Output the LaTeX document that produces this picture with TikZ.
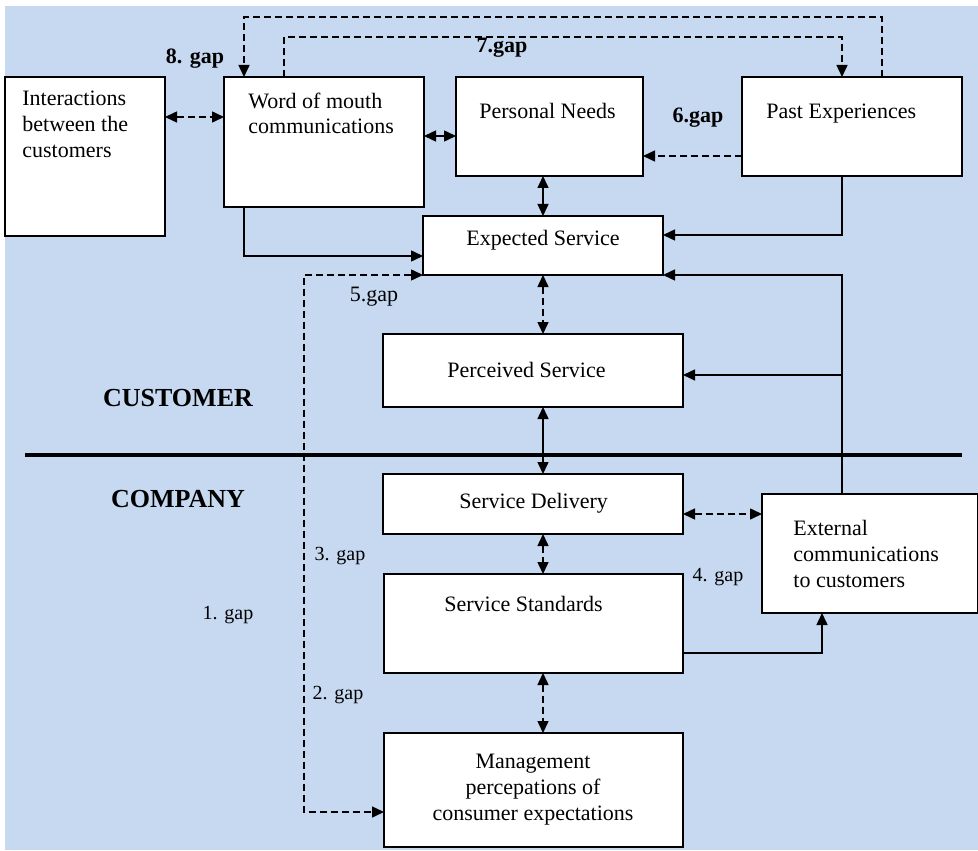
\documentclass[tikz,border=0pt]{standalone}
\usepackage{fontspec}
\setmainfont{Liberation Serif}
\usetikzlibrary{arrows.meta,calc}
\definecolor{paleblue}{RGB}{198,217,241}

\begin{document}
\begin{tikzpicture}[x=0.5pt,y=-0.5pt,
  box/.style={draw,fill=white,line width=0.65pt,inner sep=0pt,outer sep=0pt,anchor=north west},
  txt/.style={font=\fontsize{11}{13}\selectfont,inner sep=0pt,anchor=base west,align=left},
  link/.style={line width=0.75pt,>={Triangle[length=6pt,width=5.5pt]}},
  dlink/.style={link,dash pattern=on 3.5pt off 2pt},
  gapb/.style={font=\fontsize{11}{13}\selectfont\bfseries,inner sep=0pt},
  gapr/.style={font=\fontsize{10}{12}\selectfont,inner sep=0pt},
  side/.style={font=\fontsize{13}{15}\selectfont\bfseries,inner sep=0pt}]
                \useasboundingbox (0,0) rectangle (978,850);
                \fill[paleblue] (5,6) rectangle (978,850);

                % boxes
                \node[box,minimum width=80pt,minimum height=79.5pt] (inter) at (5,77) {};
                \node[box,minimum width=100pt,minimum height=65pt] (wom) at (224,77) {};
                \node[box,minimum width=93.5pt,minimum height=49.5pt] (needs) at (456,77) {};
                \node[box,minimum width=110pt,minimum height=49.5pt] (past) at (742,77) {};
                \node[box,minimum width=120pt,minimum height=29.5pt] (expected) at (423,216) {};
                \node[box,minimum width=150pt,minimum height=36.5pt] (perceived) at (383,334) {};
                \node[box,minimum width=150pt,minimum height=30pt] (delivery) at (383,474) {};
                \node[box,minimum width=149.5pt,minimum height=49.5pt] (standards) at (384,574) {};
                \node[box,minimum width=149.5pt,minimum height=57pt] (mgmt) at (384,733) {};
                \node[box,minimum width=108pt,minimum height=59.5pt] (extcom) at (762,494) {};

                % box texts (base = last line)
                \node[txt] (inter-t) at (22,158) {Interactions\\between the\\customers};
                \node[txt] (wom-t) at (248,134) {Word of mouth\\communications};
                \node[txt] (needs-t) at (479,119) {Personal Needs};
                \node[txt] (past-t) at (766,119) {Past Experiences};
                \node[txt] (expected-t) at (466,245) {Expected Service};
                \node[txt] (perceived-t) at (447,377) {Perceived Service};
                \node[txt] (delivery-t) at (459,508) {Service Delivery};
                \node[txt] (standards-t) at (444,611) {Service Standards};
                \node[txt,anchor=base,align=center] (mgmt-t) at (533,820) {Management\\percepations of\\consumer expectations};
                \node[txt] (extcom-t) at (793,587) {External\\communications\\to customers};

                % customer / company split
                \draw[line width=1.6pt] (25,455) -- (962,455);
                \node[side] (customer) at (178,398) {CUSTOMER};
                \node[side] (company) at (178,499) {COMPANY};

                % gap labels
                \node[gapb] (gap8) at (195,59) {8. gap};
                \node[gapb] (gap7) at (502,48) {7.gap};
                \node[gapb] (gap6) at (698,118) {6.gap};
                \node[gapr,font=\fontsize{11}{13}\selectfont] (gap5) at (374,297) {5.gap};
                \node[gapr] (gap3) at (340,556) {3. gap};
                \node[gapr] (gap1) at (228,615) {1. gap};
                \node[gapr] (gap2) at (338,695) {2. gap};
                \node[gapr] (gap4) at (718,577) {4. gap};

                % connectors
                \draw[dlink,<->] ($(inter.north east)+(0,40)$) -- ($(wom.north west)+(0,40)$);
                \draw[link,<->] ($(wom.north east)+(0,59)$) -- ($(needs.north west)+(0,59)$);
                \draw[dlink,->] ($(past.north west)+(140,0)$) -- ++(0,-60) -| ($(wom.north west)+(20,0)$);
                \draw[dlink,->] ($(wom.north west)+(60,0)$) -- ++(0,-40) -| ($(past.north west)+(100,0)$);
                \draw[dlink,->] ($(past.north west)+(0,79)$) -- ($(needs.north east)+(0,79)$);
                \draw[link,<->] (expected.north) -- (expected.north |- needs.south);
                \draw[link,->] ($(wom.south west)+(20,0)$) |- ($(expected.north west)+(0,40)$);
                \draw[link,->] ($(past.south west)+(100,0)$) |- ($(expected.north east)+(0,19)$);
                \draw[link,->] ($(extcom.north west)+(80,0)$) |- (expected.south east);
                \draw[link,->] ($(extcom.north west)+(80,-119)$) -- ($(perceived.north east)+(0,41)$);
                \draw[dlink,<->] (expected.south) -- (expected.south |- perceived.north);
                \draw[link,<->] (expected.south |- perceived.south) -- (expected.south |- delivery.north);
                \draw[dlink,<->] (expected.south |- delivery.south) -- (expected.south |- standards.north);
                \draw[dlink,<->] (expected.south |- standards.south) -- (expected.south |- mgmt.north);
                \draw[dlink,<->] ($(delivery.north east)+(0,40)$) -- ($(extcom.north west)+(0,20)$);
                \draw[link,->] ($(standards.north east)+(0,79)$) -| ($(extcom.south west)+(60,0)$);
                \draw[dlink,<->] (expected.south west) -- ++(-119,0) |- ($(mgmt.north west)+(0,79)$);

            \end{tikzpicture}
\end{document}
